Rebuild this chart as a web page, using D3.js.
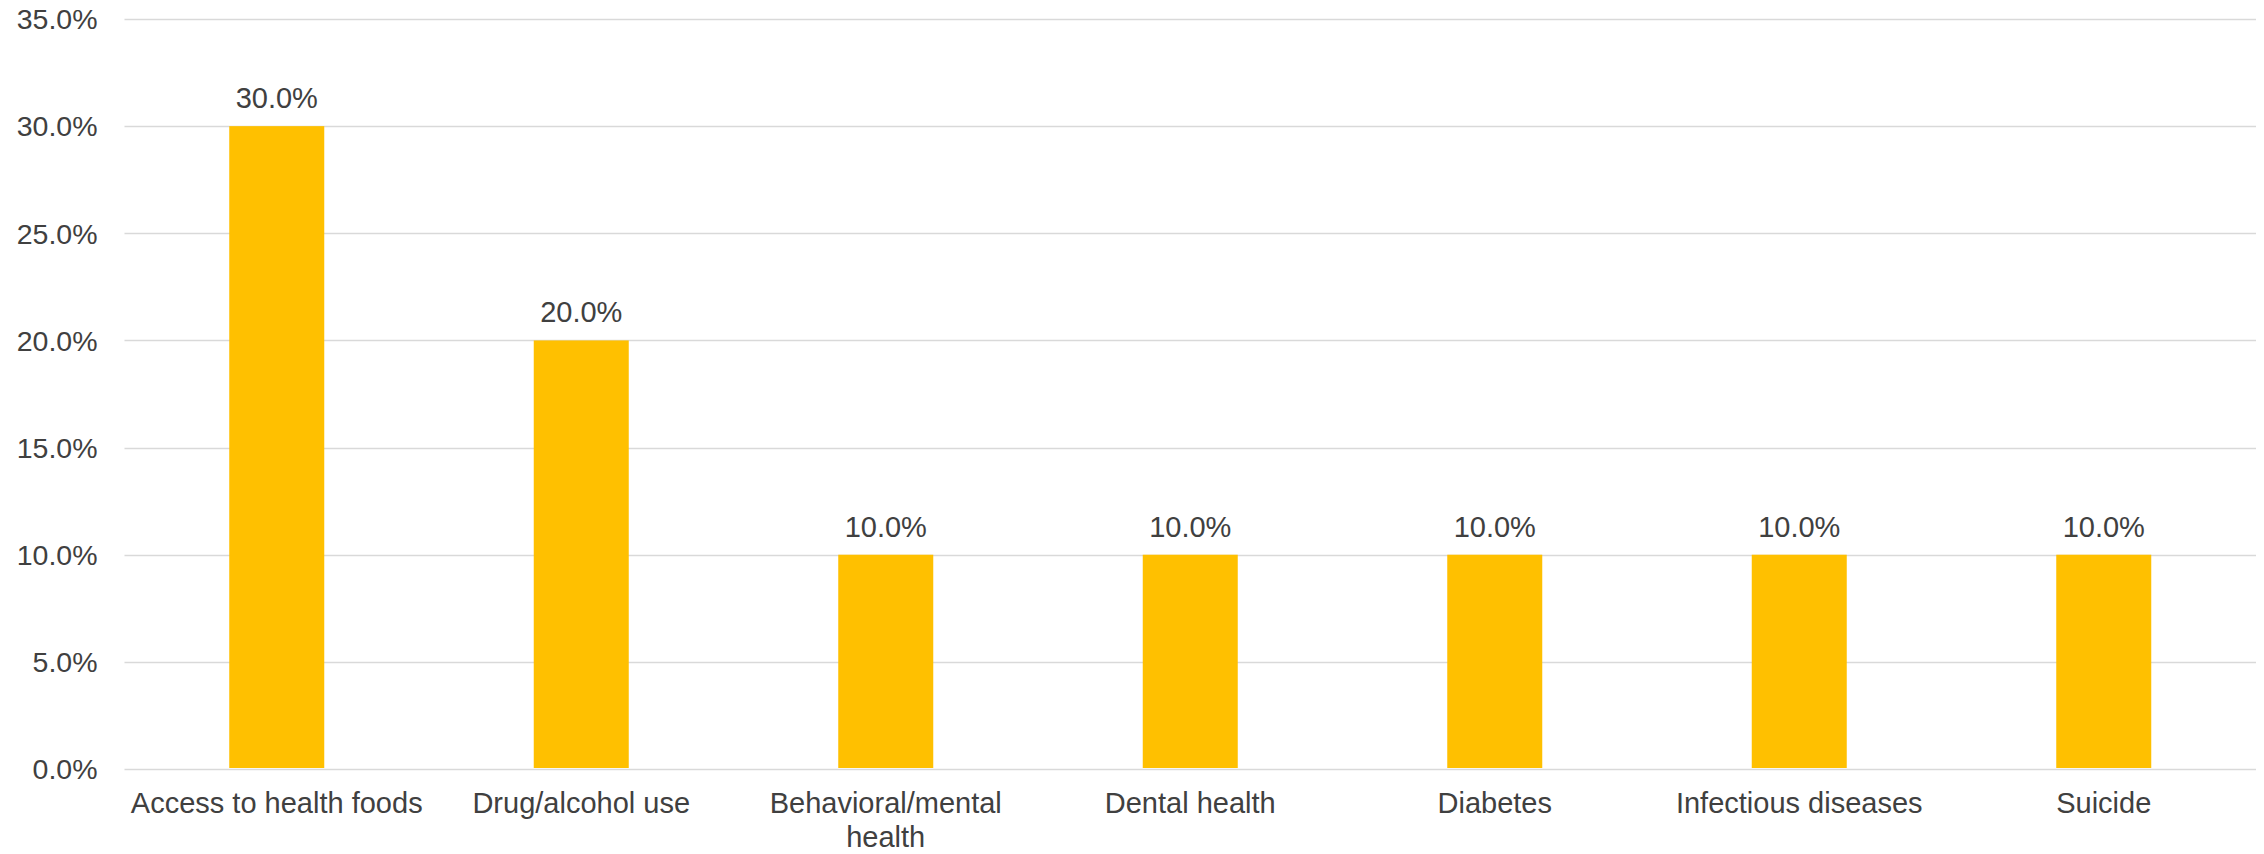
<!DOCTYPE html>
<html>
<head>
<meta charset="utf-8">
<script src="https://cdn.jsdelivr.net/npm/d3@7"></script>
<style>
  html, body { margin: 0; padding: 0; background: #ffffff; }
  svg { display: block; }
  text { font-family: "Liberation Sans", Arial, sans-serif; fill: #404040; }
</style>
</head>
<body>
<svg id="chart" width="2264" height="854"></svg>
<script>
const categories = ["Access to health foods", "Drug/alcohol use", "Behavioral/mental health", "Dental health", "Diabetes", "Infectious diseases", "Suicide"];
const values = [0.30, 0.20, 0.10, 0.10, 0.10, 0.10, 0.10];
const yTicks = [0, 0.05, 0.10, 0.15, 0.20, 0.25, 0.30, 0.35];

const W = 2264, H = 854;
const margin = { left: 124.5, right: 8, top: 19, bottom: 85 };
const svg = d3.select("#chart");

const x = d3.scaleBand().domain(categories).range([margin.left, W - margin.right]).paddingInner(0).paddingOuter(0);
const y = d3.scaleLinear().domain([0, 0.35]).range([H - margin.bottom, margin.top]);
const fmt = d3.format(".1%");
const barW = x.step() * 0.312;
const fontSize = 29;

// gridlines
svg.append("g").selectAll("line").data(yTicks).join("line")
  .attr("x1", margin.left).attr("x2", W - margin.right)
  .attr("y1", d => Math.round(y(d)) + 0.5).attr("y2", d => Math.round(y(d)) + 0.5)
  .attr("stroke", "#d9d9d9").attr("stroke-width", 1.6);

// y tick labels
svg.append("g").selectAll("text").data(yTicks).join("text")
  .attr("x", 97.5).attr("y", d => y(d)).attr("dy", "0.36em")
  .attr("text-anchor", "end").attr("font-size", 28.5)
  .text(d => fmt(d));

// bars
svg.append("g").selectAll("rect").data(values).join("rect")
  .attr("x", (d, i) => x(categories[i]) + x.bandwidth() / 2 - barW / 2)
  .attr("width", barW)
  .attr("y", d => y(d))
  .attr("height", d => y(0) - y(d) - 1)
  .attr("fill", "#FFC000");

// value labels
svg.append("g").selectAll("text").data(values).join("text")
  .attr("x", (d, i) => x(categories[i]) + x.bandwidth() / 2)
  .attr("y", d => y(d) - 18)
  .attr("text-anchor", "middle").attr("font-size", fontSize)
  .text(d => fmt(d));

// category labels with wrapping
const catG = svg.append("g");
categories.forEach((c, i) => {
  const t = catG.append("text")
    .attr("x", x(c) + x.bandwidth() / 2)
    .attr("y", y(0) + 44)
    .attr("text-anchor", "middle").attr("font-size", fontSize);
  const words = c.split(/\s+/);
  let line = [];
  let tspan = t.append("tspan").attr("x", x(c) + x.bandwidth() / 2).attr("dy", 0);
  words.forEach(w => {
    line.push(w);
    tspan.text(line.join(" "));
    if (tspan.node().getComputedTextLength() > x.step() - 4 && line.length > 1) {
      line.pop();
      tspan.text(line.join(" "));
      line = [w];
      tspan = t.append("tspan").attr("x", x(c) + x.bandwidth() / 2).attr("dy", 33.5).text(w);
    }
  });
});
</script>
</body>
</html>
